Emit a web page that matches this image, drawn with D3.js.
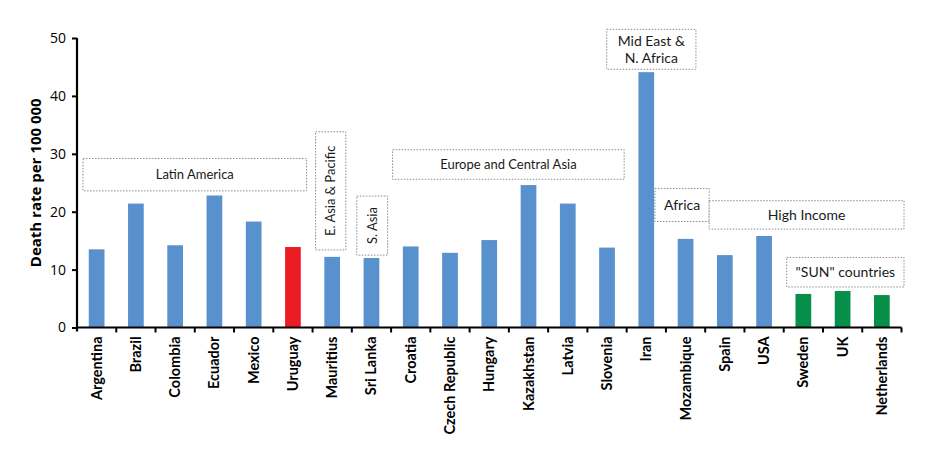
<!DOCTYPE html>
<html lang="en">
<head>
    <meta charset="UTF-8">
    <title>Death rate per 100 000</title>
    <script src="https://d3js.org/d3.v7.min.js"></script>
    <style>
        body { margin: 0; background: #fff; overflow: hidden; }
        svg { display: block; font-family: Lato, "Open Sans", sans-serif; }
        .note rect { fill: #fff; stroke: #8c8c8c; stroke-width: 1; stroke-dasharray: 1.5 1.5; }
        .note text { font-size: 13px; fill: #1a1a1a; text-anchor: middle; }
    </style>
</head>
<body>
    <svg width="929" height="453"></svg>
    <script>
        const countries = ["Argentina", "Brazil", "Colombia", "Ecuador", "Mexico", "Uruguay",
            "Mauritius", "Sri Lanka", "Croatia", "Czech Republic", "Hungary", "Kazakhstan",
            "Latvia", "Slovenia", "Iran", "Mozambique", "Spain", "USA", "Sweden", "UK", "Netherlands"];
        const deathRates = [13.5, 21.4, 14.2, 22.8, 18.3, 13.9,
            12.2, 12.0, 14.0, 12.9, 15.1, 24.6,
            21.4, 13.8, 44.1, 15.3, 12.5, 15.8, 5.8, 6.3, 5.6];
        // "normal", "focus" (Uruguay) or "sun" countries
        const barKind = ["normal", "normal", "normal", "normal", "normal", "focus",
            "normal", "normal", "normal", "normal", "normal", "normal",
            "normal", "normal", "normal", "normal", "normal", "normal", "sun", "sun", "sun"];
        const yTicks = [0, 10, 20, 30, 40, 50];

        const regions = ["Latin America", "E. Asia & Pacific", "S. Asia", "Europe and Central Asia",
            "Mid East &\nN. Africa", "Africa", "High Income", "\"SUN\" countries"];
        const regionFirst = ["Argentina", "Mauritius", "Sri Lanka", "Croatia", "Iran", "Mozambique", "Spain", "Sweden"];
        const regionLast = ["Uruguay", "Mauritius", "Sri Lanka", "Slovenia", "Iran", "Mozambique", "Netherlands", "Netherlands"];

        const colors = { normal: "#5891cd", focus: "#ec1c24", sun: "#078e48" };

        const margin = { top: 38, left: 77, right: 27.5, bottom: 125.5 };
        const width = 929, height = 453;
        const svg = d3.select("svg");

        const x = d3.scaleBand()
            .domain(countries)
            .range([margin.left, width - margin.right])
            .paddingInner(0.6)
            .paddingOuter(0.3);

        const y = d3.scaleLinear()
            .domain([0, 50])
            .range([height - margin.bottom, margin.top]);

        const step = x.step();
        const bandStart = c => x(c) - step * x.paddingInner() / 2;
        const bandEnd = c => bandStart(c) + step;

        // bars
        svg.append("g").selectAll("rect")
            .data(countries)
            .join("rect")
            .attr("x", d => x(d))
            .attr("width", x.bandwidth())
            .attr("y", (d, i) => y(deathRates[i]))
            .attr("height", (d, i) => y(0) - y(deathRates[i]))
            .attr("fill", (d, i) => colors[barKind[i]]);

        // region boxes: band-relative pixel nudges and top/bottom in data units
        const noteLayout = [
            { dx0: 6, dx1: -6, top: 29.2, bottom: 23.6 },
            { dx0: 3, dx1: -6, top: 33.8, bottom: 13.4, rotate: true },
            { dx0: 5, dx1: -3.5, top: 22.7, bottom: 12.5, rotate: true },
            { dx0: 1.5, dx1: -2.5, top: 30.7, bottom: 25.6 },
            { dx0: -20, dx1: 30, top: 51.5, bottom: 44.6, size: 14 },
            { dx0: -11, dx1: 4, top: 24.0, bottom: 18.3, size: 14 },
            { dx0: 4, dx1: 2.5, top: 21.9, bottom: 17.0, size: 14 },
            { dx0: 3, dx1: 2.5, top: 12.1, bottom: 7.0, size: 14 }
        ];

        svg.append("g").selectAll("g")
            .data(regions)
            .join("g")
            .attr("class", "note")
            .each(function (name, i) {
                const L = noteLayout[i];
                const x0 = bandStart(regionFirst[i]) + L.dx0;
                const x1 = bandEnd(regionLast[i]) + L.dx1;
                const y0 = y(L.top), y1 = y(L.bottom);
                const g = d3.select(this);
                g.append("rect")
                    .attr("x", x0).attr("y", y0)
                    .attr("width", x1 - x0).attr("height", y1 - y0);
                const cx = (x0 + x1) / 2, cy = (y0 + y1) / 2;
                const lines = name.split("\n");
                const t = g.append("text")
                    .style("font-size", (L.size || 13) + "px")
                    .attr("transform", `translate(${cx},${cy})` + (L.rotate ? " rotate(-90)" : ""));
                lines.forEach((s, k) => {
                    t.append("tspan")
                        .attr("x", 0)
                        .attr("dy", k === 0 ? `${0.35 - (lines.length - 1) * 0.6}em` : "1.2em")
                        .text(s);
                });
            });

        // y axis
        const yAxis = svg.append("g")
            .attr("transform", `translate(${margin.left},0)`)
            .call(d3.axisLeft(y).tickValues(yTicks).tickSize(5).tickPadding(6));
        yAxis.select(".domain").attr("stroke", "#000").attr("stroke-width", 2.2)
            .attr("d", `M0,${y(50)}V${y(0) + 4}`);
        yAxis.selectAll(".tick line").attr("stroke", "#000").attr("stroke-width", 2);
        yAxis.selectAll("text").style("font-size", "14px").attr("fill", "#000")
            .style("font-family", "\"Open Sans\", sans-serif");

        // x axis (ticks on category boundaries)
        const xAxisG = svg.append("g").attr("transform", `translate(0,${y(0)})`);
        xAxisG.append("line")
            .attr("x1", margin.left).attr("x2", bandEnd(countries[countries.length - 1]))
            .attr("stroke", "#000").attr("stroke-width", 2.2);
        xAxisG.selectAll("line.tk")
            .data(countries)
            .join("line")
            .attr("class", "tk")
            .attr("x1", d => bandEnd(d)).attr("x2", d => bandEnd(d))
            .attr("y1", 0).attr("y2", 5)
            .attr("stroke", "#000").attr("stroke-width", 2);
        xAxisG.selectAll("text")
            .data(countries)
            .join("text")
            .attr("transform", d => `translate(${x(d) + x.bandwidth() / 2 + 5},9) rotate(-90)`)
            .attr("text-anchor", "end")
            .style("font-size", "14.5px")
            .style("font-weight", "bold")
            .attr("fill", "#000")
            .text(d => d);

        // y title
        svg.append("text")
            .attr("transform", `translate(41,${y(25)}) rotate(-90)`)
            .attr("text-anchor", "middle")
            .style("font-size", "15px")
            .style("font-weight", "bold")
            .style("font-family", "\"Open Sans\", sans-serif")
            .text("Death rate per 100 000");
    </script>
</body>
</html>
